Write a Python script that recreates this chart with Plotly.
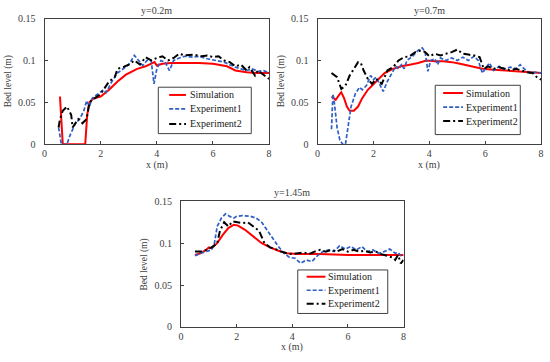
import plotly.graph_objects as go

# ---------------- data ----------------
# Panel 1: y=0.2m
p1_sim_x = [0.55, 0.6, 0.65, 1.0, 1.45, 1.52, 1.6, 1.75, 2.0, 2.3, 2.6, 2.9, 3.3, 3.6, 3.85, 3.92, 4.0, 4.2, 4.5, 5.0, 5.5, 6.0, 6.5, 6.8, 7.2, 7.6, 8.0]
p1_sim_y = [0.057, 0.03, 0.0, 0.0, 0.0, 0.035, 0.05, 0.055, 0.057, 0.065, 0.075, 0.083, 0.09, 0.093, 0.097, 0.098, 0.094, 0.096, 0.097, 0.097, 0.097, 0.096, 0.093, 0.088, 0.086, 0.085, 0.085]
p1_e1_x = [0.5, 0.6, 0.8, 0.9, 1.1, 1.25, 1.4, 1.5, 1.6, 1.7, 1.9, 2.1, 2.2, 2.4, 2.6, 2.8, 3.0, 3.2, 3.35, 3.5, 3.65, 3.8, 3.9, 4.0, 4.15, 4.3, 4.45, 4.6, 4.8, 5.0, 5.3, 5.5, 5.8, 6.1, 6.4, 6.6, 6.8, 7.0, 7.2, 7.4, 7.6, 7.8, 8.0]
p1_e1_y = [0.02, 0.0, 0.0, 0.01, 0.025, 0.03, 0.04, 0.052, 0.045, 0.055, 0.06, 0.065, 0.062, 0.075, 0.085, 0.09, 0.095, 0.106, 0.1, 0.094, 0.1, 0.1, 0.072, 0.09, 0.1, 0.098, 0.088, 0.1, 0.103, 0.105, 0.104, 0.105, 0.102, 0.1, 0.098, 0.095, 0.092, 0.09, 0.088, 0.09, 0.087, 0.088, 0.085]
p1_e2_x = [0.5, 0.55, 0.65, 0.8, 0.95, 1.0, 1.1, 1.2, 1.35, 1.5, 1.6, 1.8, 2.0, 2.1, 2.3, 2.5, 2.6, 2.8, 3.0, 3.2, 3.4, 3.6, 3.8, 4.0, 4.2, 4.4, 4.6, 4.8, 5.0, 5.3, 5.6, 5.8, 6.0, 6.2, 6.4, 6.6, 6.8, 7.0, 7.2, 7.3, 7.5, 7.6, 7.8, 8.0]
p1_e2_y = [0.02, 0.03, 0.04, 0.045, 0.035, 0.02, 0.025, 0.03, 0.025, 0.03, 0.05, 0.055, 0.06, 0.065, 0.075, 0.08, 0.09, 0.092, 0.095, 0.1, 0.095, 0.104, 0.1, 0.103, 0.105, 0.1, 0.103, 0.108, 0.106, 0.107, 0.105, 0.106, 0.104, 0.105, 0.1, 0.098, 0.093, 0.095, 0.088, 0.092, 0.082, 0.088, 0.083, 0.078]

# Panel 2: y=0.7m
p2_sim_x = [0.5, 0.6, 0.65, 0.8, 0.85, 0.95, 1.05, 1.15, 1.3, 1.45, 1.6, 1.8, 2.0, 2.2, 2.4, 2.7, 3.0, 3.3, 3.6, 3.9, 4.2, 4.5, 4.8, 5.1, 5.5, 5.9, 6.3, 6.7, 7.0, 7.4, 7.8, 8.0]
p2_sim_y = [0.057, 0.055, 0.053, 0.06, 0.062, 0.055, 0.045, 0.04, 0.04, 0.045, 0.055, 0.065, 0.072, 0.078, 0.085, 0.09, 0.093, 0.095, 0.097, 0.1, 0.099, 0.099, 0.098, 0.096, 0.093, 0.09, 0.089, 0.088, 0.087, 0.086, 0.085, 0.085]
p2_e1_x = [0.5, 0.55, 0.6, 0.7, 0.8, 0.9, 1.0, 1.1, 1.2, 1.35, 1.5, 1.6, 1.75, 1.9, 2.0, 2.1, 2.2, 2.35, 2.5, 2.65, 2.8, 2.9, 3.0, 3.1, 3.2, 3.4, 3.6, 3.75, 3.85, 3.95, 4.05, 4.2, 4.3, 4.4, 4.6, 4.8, 5.0, 5.2, 5.4, 5.6, 5.75, 5.9, 6.0, 6.15, 6.3, 6.5, 6.7, 6.9, 7.1, 7.25, 7.4, 7.6, 7.8, 8.0]
p2_e1_y = [0.018, 0.06, 0.05, 0.02, 0.005, 0.0, 0.0, 0.02, 0.045, 0.06, 0.068, 0.065, 0.07, 0.082, 0.077, 0.08, 0.073, 0.063, 0.075, 0.085, 0.093, 0.09, 0.095, 0.09, 0.1, 0.105, 0.112, 0.115, 0.11, 0.087, 0.1, 0.102, 0.095, 0.103, 0.1, 0.103, 0.1, 0.104, 0.1, 0.105, 0.1, 0.085, 0.09, 0.097, 0.088, 0.093, 0.09, 0.092, 0.09, 0.095, 0.09, 0.085, 0.086, 0.085]
p2_e2_x = [0.5, 0.6, 0.7, 0.85, 1.0, 1.15, 1.3, 1.45, 1.55, 1.65, 1.8, 1.95, 2.1, 2.3, 2.5, 2.7, 2.9, 3.1, 3.3, 3.5, 3.7, 3.85, 4.0, 4.2, 4.4, 4.6, 4.8, 5.0, 5.2, 5.4, 5.6, 5.8, 5.95, 6.1, 6.3, 6.5, 6.7, 6.9, 7.1, 7.3, 7.5, 7.7, 7.85, 8.0]
p2_e2_y = [0.085, 0.083, 0.08, 0.066, 0.07, 0.082, 0.09, 0.098, 0.097, 0.088, 0.078, 0.072, 0.078, 0.072, 0.088, 0.092, 0.1, 0.104, 0.105, 0.11, 0.112, 0.11, 0.105, 0.108, 0.106, 0.108, 0.11, 0.113, 0.108, 0.107, 0.106, 0.104, 0.09, 0.093, 0.09, 0.092, 0.09, 0.088, 0.09, 0.088, 0.086, 0.085, 0.08, 0.077]

# Panel 3: y=1.45m
p3_sim_x = [0.5, 0.7, 0.9, 1.0, 1.1, 1.3, 1.5, 1.7, 1.9, 2.05, 2.3, 2.6, 2.9, 3.2, 3.5, 3.8, 4.2, 5.0, 6.0, 7.0, 8.0]
p3_sim_y = [0.086, 0.088, 0.092, 0.095, 0.094, 0.1, 0.11, 0.118, 0.122, 0.121, 0.116, 0.108, 0.1, 0.095, 0.091, 0.088, 0.087, 0.087, 0.086, 0.086, 0.086]
p3_e1_x = [0.5, 0.7, 0.9, 1.1, 1.2, 1.3, 1.45, 1.6, 1.75, 1.9, 2.0, 2.2, 2.5, 2.7, 2.9, 3.1, 3.3, 3.5, 3.7, 3.9, 4.1, 4.3, 4.5, 4.7, 4.9, 5.1, 5.3, 5.5, 5.7, 5.9, 6.1, 6.3, 6.5, 6.7, 6.9, 7.1, 7.3, 7.5, 7.7, 7.8, 7.9, 8.0]
p3_e1_y = [0.085, 0.088, 0.09, 0.092, 0.1, 0.12, 0.13, 0.135, 0.132, 0.13, 0.132, 0.133, 0.132, 0.13, 0.125, 0.115, 0.105, 0.096, 0.088, 0.083, 0.082, 0.076, 0.08, 0.078, 0.085, 0.09, 0.092, 0.09, 0.097, 0.093, 0.096, 0.092, 0.096, 0.09, 0.092, 0.088, 0.09, 0.093, 0.088, 0.089, 0.085, 0.085]
p3_e2_x = [0.5, 0.7, 0.9, 1.1, 1.3, 1.4, 1.55, 1.7, 1.85, 2.0, 2.2, 2.4, 2.6, 2.8, 3.0, 3.2, 3.4, 3.6, 3.8, 4.0, 4.2, 4.4, 4.6, 4.8, 5.0, 5.2, 5.4, 5.6, 5.8, 6.0, 6.2, 6.4, 6.6, 6.8, 7.0, 7.2, 7.4, 7.6, 7.7, 7.8, 7.9, 8.0]
p3_e2_y = [0.09, 0.09, 0.092, 0.095, 0.1, 0.115, 0.125, 0.12, 0.126, 0.125, 0.124, 0.125, 0.12, 0.115, 0.1, 0.095, 0.093, 0.09, 0.088, 0.087, 0.088, 0.089, 0.087, 0.09, 0.092, 0.09, 0.092, 0.09, 0.093, 0.09, 0.092, 0.09, 0.091, 0.089, 0.09, 0.087, 0.085, 0.083, 0.08, 0.086, 0.076, 0.08]

panel_titles = ["y=0.2m", "y=0.7m", "y=1.45m"]
series_names = ["Simulation", "Experiment1", "Experiment2"]
x_ticks = [0, 2, 4, 6, 8]
y_ticks = [0, 0.05, 0.1, 0.15]
y_tick_labels = ["0", "0.05", "0.1", "0.15"]

# ---------------- figure ----------------
W, H = 550, 362
FONT = "Liberation Serif, Times New Roman, serif"
GREY = "#404040"


def px_x(v):
    return v / W


def px_y(v):
    return 1 - v / H


# plot areas in pixels: (left, right, top, bottom)
areas = [(42, 269, 13, 143), (318, 544, 13, 143), (180, 405, 202, 332)]
# legend boxes in pixels: box (l, t, r, b), sample x0, x1, text x, row y centres
legends = [
    dict(box=(157, 84, 251, 132), sx=(168, 185), tx=187, rows=(92, 106.5, 122)),
    dict(box=(437, 82, 523, 133), sx=(445, 465), tx=466, rows=(90, 104.5, 119)),
    dict(box=(298, 273, 389, 318), sx=(307, 326), tx=327, rows=(280, 294, 308)),
]

panels = [
    (p1_sim_x, p1_sim_y, p1_e1_x, p1_e1_y, p1_e2_x, p1_e2_y),
    (p2_sim_x, p2_sim_y, p2_e1_x, p2_e1_y, p2_e2_x, p2_e2_y),
    (p3_sim_x, p3_sim_y, p3_e1_x, p3_e1_y, p3_e2_x, p3_e2_y),
]

styles = [
    dict(color="#FF0000", width=2, dash="solid"),
    dict(color="#2F5FC4", width=1.7, dash="4px,2px"),
    dict(color="#000000", width=2, dash="7px,3px,2px,3px"),
]

fig = go.Figure()
layout = dict(
    width=W, height=H,
    margin=dict(l=0, r=0, t=0, b=0),
    paper_bgcolor="white", plot_bgcolor="white",
    font=dict(family=FONT, size=10, color=GREY),
    showlegend=False,
    annotations=[],
    shapes=[],
)

for i, (sx, sy, e1x, e1y, e2x, e2y) in enumerate(panels):
    k = "" if i == 0 else str(i + 1)
    for (xs, ys), name, st in zip([(sx, sy), (e1x, e1y), (e2x, e2y)], series_names, styles):
        fig.add_trace(go.Scatter(
            x=xs, y=ys, mode="lines", name=name,
            line=st, xaxis="x" + k, yaxis="y" + k,
        ))
    l, r, t, b = areas[i]
    layout["xaxis" + k] = dict(
        domain=[px_x(l), px_x(r)], anchor="y" + k, range=[0, 8],
        tickvals=x_ticks, ticks="inside", ticklen=3, tickcolor=GREY,
        showline=True, linecolor=GREY, linewidth=1, mirror=True,
        showgrid=False, zeroline=False,
        tickfont=dict(family=FONT, size=10, color=GREY),
    )
    layout["yaxis" + k] = dict(
        domain=[px_y(b), px_y(t)], anchor="x" + k, range=[0, 0.15],
        tickvals=y_ticks, ticktext=y_tick_labels, ticks="inside", ticklen=3,
        tickcolor=GREY,
        showline=True, linecolor=GREY, linewidth=1, mirror=True,
        showgrid=False, zeroline=False, ticklabelstandoff=6,
        tickfont=dict(family=FONT, size=10, color=GREY),
    )
    # panel title
    layout["annotations"].append(dict(
        text=panel_titles[i], xref="paper", yref="paper",
        x=px_x((l + r) / 2), y=px_y(t - 1), xanchor="center", yanchor="bottom",
        showarrow=False, font=dict(family=FONT, size=10, color=GREY),
    ))
    # axis titles
    layout["annotations"].append(dict(
        text="x (m)", xref="paper", yref="paper",
        x=px_x((l + r) / 2), y=px_y(b + 21), xanchor="center", yanchor="middle",
        showarrow=False, font=dict(family=FONT, size=10, color=GREY),
    ))
    layout["annotations"].append(dict(
        text="Bed level (m)", xref="paper", yref="paper", textangle=-90,
        x=px_x(l - 37), y=px_y((t + b) / 2), xanchor="center", yanchor="middle",
        showarrow=False, font=dict(family=FONT, size=9.5, color=GREY),
    ))
    # legend (drawn as a boxed key)
    lg = legends[i]
    bl, bt, br, bb = lg["box"]
    layout["shapes"].append(dict(
        type="rect", xref="paper", yref="paper",
        x0=px_x(bl), x1=px_x(br), y0=px_y(bb), y1=px_y(bt),
        line=dict(color=GREY, width=1), fillcolor="white", layer="above",
    ))
    for name, st, ry in zip(series_names, styles, lg["rows"]):
        layout["shapes"].append(dict(
            type="line", xref="paper", yref="paper",
            x0=px_x(lg["sx"][0]), x1=px_x(lg["sx"][1]), y0=px_y(ry), y1=px_y(ry),
            line=dict(color=st["color"], width=st["width"], dash=st["dash"]),
            layer="above",
        ))
        layout["annotations"].append(dict(
            text=name, xref="paper", yref="paper",
            x=px_x(lg["tx"]), y=px_y(ry), xanchor="left", yanchor="middle",
            showarrow=False, font=dict(family=FONT, size=10, color="#202020"),
        ))

fig.update_layout(**layout)
fig.write_html("out.html", config={"displayModeBar": False},
               post_script="document.body.style.margin='0';")
